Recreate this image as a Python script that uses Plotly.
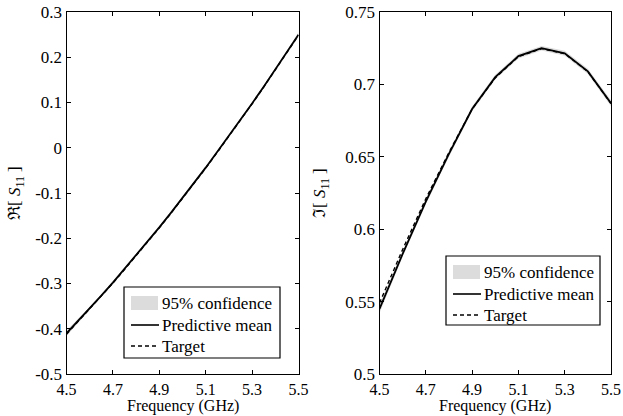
import plotly.graph_objects as go

# Frequency grids (GHz)
freq_re = [4.50, 4.55, 4.60, 4.65, 4.70, 4.75, 4.80, 4.85, 4.90, 4.95, 5.00,
           5.05, 5.10, 5.15, 5.20, 5.25, 5.30, 5.35, 5.40, 5.45, 5.50]
freq_im = [4.5, 4.6, 4.7, 4.8, 4.9, 5.0, 5.1, 5.2, 5.3, 5.4, 5.5]

# Real part of S11
re_mean = [-0.410, -0.383, -0.355, -0.327, -0.298, -0.268, -0.238, -0.207, -0.176, -0.144, -0.111,
           -0.078, -0.044, -0.009, 0.026, 0.062, 0.098, 0.135, 0.173, 0.211, 0.250]
re_target = [-0.412, -0.384, -0.356, -0.328, -0.299, -0.269, -0.239, -0.208, -0.177, -0.145, -0.112,
             -0.079, -0.045, -0.010, 0.025, 0.061, 0.097, 0.134, 0.172, 0.210, 0.249]
re_upper = [-0.404, -0.379, -0.352, -0.324, -0.295, -0.265, -0.235, -0.204, -0.173, -0.141, -0.108,
            -0.075, -0.041, -0.006, 0.029, 0.065, 0.101, 0.138, 0.176, 0.215, 0.255]
re_lower = [-0.416, -0.387, -0.358, -0.330, -0.301, -0.271, -0.241, -0.210, -0.179, -0.147, -0.114,
            -0.081, -0.047, -0.012, 0.023, 0.059, 0.095, 0.132, 0.170, 0.207, 0.245]

# Imaginary part of S11
im_mean = [0.545, 0.583, 0.619, 0.652, 0.683, 0.705, 0.7195, 0.725, 0.7215, 0.709, 0.687]
im_target = [0.549, 0.586, 0.621, 0.653, 0.683, 0.7045, 0.7192, 0.7247, 0.7212, 0.7088, 0.6868]
im_upper = [0.548, 0.585, 0.621, 0.654, 0.6848, 0.7066, 0.7211, 0.7266, 0.7232, 0.7108, 0.6891]
im_lower = [0.542, 0.581, 0.617, 0.650, 0.6812, 0.7034, 0.7179, 0.7234, 0.7198, 0.7072, 0.6849]

x_ticks = [4.5, 4.7, 4.9, 5.1, 5.3, 5.5]
re_ticks = [-0.5, -0.4, -0.3, -0.2, -0.1, 0, 0.1, 0.2, 0.3]
re_ticktext = ["-0.5", "-0.4", "-0.3", "-0.2", "-0.1", "0", "0.1", "0.2", "0.3"]
im_ticks = [0.5, 0.55, 0.6, 0.65, 0.7, 0.75]
im_ticktext = ["0.5", "0.55", "0.6", "0.65", "0.7", "0.75"]

legend_labels = ["95% confidence", "Predictive mean", "Target"]

FONT = "Liberation Serif"
FS = 17
BAND = "#dcdcdc"
W, H = 623, 416

# plot-area edges in pixels
L1, R1 = 66.5, 298.5
L2, R2 = 379.5, 611.0
TOP, BOT = 12, 374

fig = go.Figure()


def px_x(p):
    return p / W


def px_y(p):
    return 1 - p / H


def add_panel(freq, mean, target, upper, lower, xa, ya):
    fig.add_trace(go.Scatter(
        x=freq + freq[::-1], y=upper + lower[::-1], fill="toself",
        fillcolor=BAND, line=dict(width=0, color=BAND), mode="lines",
        name=legend_labels[0], xaxis=xa, yaxis=ya, hoverinfo="skip"))
    fig.add_trace(go.Scatter(
        x=freq, y=mean, mode="lines", line=dict(color="black", width=1.8),
        name=legend_labels[1], xaxis=xa, yaxis=ya))
    fig.add_trace(go.Scatter(
        x=freq, y=target, mode="lines", line=dict(color="black", width=1.4, dash="4px,3px"),
        name=legend_labels[2], xaxis=xa, yaxis=ya))


def add_legend_box(left, top, width, height):
    """Boxed legend drawn in paper pixels: grey swatch, solid and dashed keys."""
    fig.add_shape(type="rect", xref="paper", yref="paper",
                  x0=px_x(left), x1=px_x(left + width), y0=px_y(top), y1=px_y(top + height),
                  line=dict(color="black", width=1.2), fillcolor="white", layer="above")
    rows = [top + 16, top + 38, top + 59]
    kx0, kx1 = left + 7, left + 35
    fig.add_shape(type="rect", xref="paper", yref="paper",
                  x0=px_x(kx0), x1=px_x(kx1 - 1), y0=px_y(rows[0] - 7), y1=px_y(rows[0] + 7),
                  line=dict(width=0), fillcolor=BAND, layer="above")
    fig.add_shape(type="line", xref="paper", yref="paper",
                  x0=px_x(kx0), x1=px_x(kx1), y0=px_y(rows[1]), y1=px_y(rows[1]),
                  line=dict(color="black", width=1.6), layer="above")
    fig.add_shape(type="line", xref="paper", yref="paper",
                  x0=px_x(kx0), x1=px_x(kx1), y0=px_y(rows[2]), y1=px_y(rows[2]),
                  line=dict(color="black", width=1.4, dash="4px,3px"), layer="above")
    for label, ry in zip(legend_labels, rows):
        fig.add_annotation(xref="paper", yref="paper", x=px_x(kx1 + 1), y=px_y(ry),
                           xanchor="left", yanchor="middle", text=label, showarrow=False,
                           font=dict(family=FONT, size=FS, color="black"))


add_panel(freq_re, re_mean, re_target, re_upper, re_lower, "x", "y")
add_panel(freq_im, im_mean, im_target, im_upper, im_lower, "x2", "y2")

add_legend_box(124, 287, 156, 71)
add_legend_box(446, 256, 154, 69)

# axis titles
for cx in [(L1 + R1) / 2, (L2 + R2) / 2]:
    fig.add_annotation(xref="paper", yref="paper", x=px_x(cx), y=px_y(406),
                       xanchor="center", yanchor="middle", text="Frequency (GHz)",
                       showarrow=False, font=dict(family=FONT, size=16, color="black"))
for cx, sym in [(16, "ℜ"), (321, "ℑ")]:
    fig.add_annotation(xref="paper", yref="paper", x=px_x(cx), y=px_y((TOP + BOT) / 2),
                       xanchor="center", yanchor="middle", textangle=-90,
                       text=sym + "[ <i>S</i><sub>11</sub> ]",
                       showarrow=False, font=dict(family=FONT, size=FS, color="black"))

axis_common = dict(showline=True, mirror="allticks", linecolor="black", linewidth=1,
                   ticks="inside", ticklen=4, tickcolor="black", showgrid=False,
                   zeroline=False, automargin=False, ticklabeloverflow="allow")
y_font = dict(family=FONT, size=FS, color="black")
x_font = dict(family=FONT, size=16, color="black")

y_dom = [(H - BOT) / H, (H - TOP) / H]

fig.update_layout(
    width=W, height=H,
    margin=dict(l=0, r=0, t=0, b=0, autoexpand=False),
    paper_bgcolor="white", plot_bgcolor="white",
    font=dict(family=FONT, size=FS, color="black"),
    showlegend=False,
    xaxis=dict(domain=[L1 / W, R1 / W], range=[4.5, 5.5], tickvals=x_ticks,
               ticklabelstandoff=1, tickfont=x_font, **axis_common),
    yaxis=dict(domain=y_dom, range=[-0.5, 0.3], tickvals=re_ticks, ticktext=re_ticktext,
               ticklabelstandoff=0, tickfont=y_font, **axis_common),
    xaxis2=dict(domain=[L2 / W, R2 / W], range=[4.5, 5.5], tickvals=x_ticks, anchor="y2",
                ticklabelstandoff=1, tickfont=x_font, **axis_common),
    yaxis2=dict(domain=y_dom, range=[0.5, 0.75], tickvals=im_ticks, ticktext=im_ticktext,
                anchor="x2", ticklabelstandoff=0, tickfont=y_font, **axis_common),
)

fig.write_html("out.html")
